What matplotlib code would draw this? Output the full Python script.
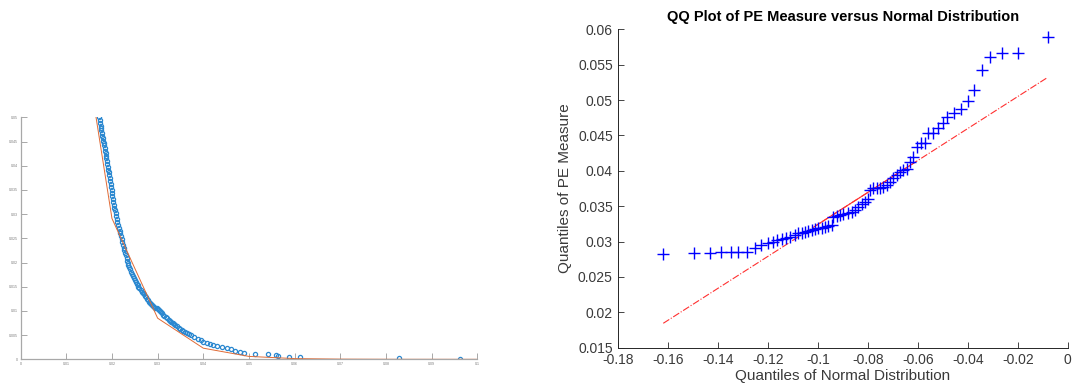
import matplotlib
matplotlib.use("Agg")
import matplotlib.pyplot as plt

plt.rcParams['font.family'] = ['Liberation Sans', 'DejaVu Sans']
plt.rcParams['axes.unicode_minus'] = False

# left panel: measured points (blue circles) and fitted curve (orange)
pe_x = [0.0172, 0.0173, 0.0174, 0.0175, 0.0176, 0.0177, 0.0178, 0.0179, 0.0180, 0.0181,
        0.0182, 0.0183, 0.0184, 0.0185, 0.0186, 0.0187, 0.0188, 0.0189, 0.0190, 0.0191,
        0.0192, 0.0193, 0.0194, 0.0195, 0.0196, 0.0197, 0.0198, 0.0199, 0.0200, 0.0201,
        0.0202, 0.0203, 0.0204, 0.0205, 0.0206, 0.0208, 0.0209, 0.0211, 0.0212, 0.0214,
        0.0215, 0.0217, 0.0218, 0.0220, 0.0221, 0.0223, 0.0224, 0.0226, 0.0227, 0.0229,
        0.0230, 0.0232, 0.0233, 0.0235, 0.0236, 0.0238, 0.0240, 0.0242, 0.0244, 0.0246,
        0.0248, 0.0250, 0.0252, 0.0254, 0.0256, 0.0258, 0.0260, 0.0263, 0.0265, 0.0268,
        0.0270, 0.0273, 0.0275, 0.0277, 0.0279, 0.0281, 0.0283, 0.0285, 0.0287, 0.0290,
        0.0292, 0.0295, 0.0298, 0.0301, 0.0303, 0.0306, 0.0308, 0.0310, 0.0312, 0.0315,
        0.0318, 0.0321, 0.0324, 0.0327, 0.0330, 0.0333, 0.0336, 0.0339, 0.0342, 0.0346,
        0.0349, 0.0353, 0.0356, 0.0360, 0.0364, 0.0369, 0.0374, 0.0380, 0.0388, 0.0395,
        0.0400, 0.0408, 0.0415, 0.0421, 0.0430, 0.0440, 0.0451, 0.0460, 0.0470, 0.0480,
        0.0490, 0.0513, 0.0542, 0.0560, 0.0564, 0.0588, 0.0611, 0.0828, 0.0963]
pe_y = [0.0500, 0.0494, 0.0489, 0.0483, 0.0478, 0.0473, 0.0468, 0.0462, 0.0457, 0.0452,
        0.0447, 0.0442, 0.0437, 0.0431, 0.0426, 0.0420, 0.0415, 0.0409, 0.0404, 0.0398,
        0.0392, 0.0386, 0.0380, 0.0374, 0.0368, 0.0362, 0.0356, 0.0350, 0.0344, 0.0337,
        0.0331, 0.0325, 0.0319, 0.0313, 0.0308, 0.0302, 0.0297, 0.0290, 0.0284, 0.0278,
        0.0272, 0.0266, 0.0260, 0.0254, 0.0248, 0.0242, 0.0237, 0.0231, 0.0226, 0.0220,
        0.0215, 0.0209, 0.0204, 0.0199, 0.0195, 0.0190, 0.0186, 0.0181, 0.0177, 0.0172,
        0.0168, 0.0164, 0.0160, 0.0156, 0.0153, 0.0150, 0.0147, 0.0143, 0.0140, 0.0137,
        0.0134, 0.0131, 0.0128, 0.0125, 0.0122, 0.0119, 0.0116, 0.0114, 0.0112, 0.0110,
        0.0108, 0.0106, 0.0105, 0.0103, 0.0101, 0.0099, 0.0097, 0.0095, 0.0092, 0.0090,
        0.0087, 0.0085, 0.0082, 0.0080, 0.0077, 0.0075, 0.0073, 0.0070, 0.0068, 0.0065,
        0.0062, 0.0060, 0.0058, 0.0056, 0.0054, 0.0052, 0.0050, 0.0047, 0.0042, 0.0039,
        0.0036, 0.0034, 0.0031, 0.0030, 0.0028, 0.0025, 0.0023, 0.0021, 0.0018, 0.0016,
        0.0014, 0.0011, 0.0010, 0.0008, 0.0007, 0.0005, 0.0004, 0.0003, 0.0001]
fit_x = [0.01, 0.02, 0.03, 0.04, 0.05, 0.06, 0.07, 0.08, 0.09, 0.1]
fit_y = [0.089, 0.0291, 0.0085, 0.0023, 0.0006, 0.00015, 0.00004, 0.00001, 0.000003, 0.000001]

left_xticks = [0, 0.01, 0.02, 0.03, 0.04, 0.05, 0.06, 0.07, 0.08, 0.09, 0.1]
left_xlabels = ['0', '0.01', '0.02', '0.03', '0.04', '0.05', '0.06', '0.07', '0.08', '0.09', '0.1']
left_yticks = [0, 0.005, 0.01, 0.015, 0.02, 0.025, 0.03, 0.035, 0.04, 0.045, 0.05]
left_ylabels = ['0', '0.005', '0.01', '0.015', '0.02', '0.025', '0.03', '0.035', '0.04', '0.045', '0.05']

# right panel: QQ plot
qq_x = [-0.1620, -0.1497, -0.1433, -0.1390, -0.1350, -0.1319, -0.1286, -0.1253, -0.1229, -0.1199,
        -0.1182, -0.1166, -0.1146, -0.1128, -0.1112, -0.1092, -0.1079, -0.1066, -0.1052, -0.1039,
        -0.1026, -0.1012, -0.0999, -0.0986, -0.0972, -0.0959, -0.0945, -0.0939, -0.0926, -0.0912,
        -0.0899, -0.0882, -0.0865, -0.0852, -0.0839, -0.0825, -0.0812, -0.0799, -0.0792, -0.0779,
        -0.0765, -0.0752, -0.0738, -0.0725, -0.0712, -0.0698, -0.0685, -0.0672, -0.0658, -0.0645,
        -0.0632, -0.0618, -0.0605, -0.0589, -0.0572, -0.0558, -0.0541, -0.0518, -0.0501, -0.0485,
        -0.0456, -0.0429, -0.0401, -0.0375, -0.0345, -0.0311, -0.0265, -0.0200, -0.0079]
qq_y = [0.02824, 0.02843, 0.02843, 0.02857, 0.02857, 0.02857, 0.02857, 0.02904, 0.02951, 0.02975,
        0.02998, 0.03022, 0.03036, 0.03046, 0.03069, 0.03093, 0.03116, 0.03126, 0.03140, 0.03154,
        0.03163, 0.03173, 0.03187, 0.03196, 0.03210, 0.03220, 0.03234, 0.03352, 0.03361, 0.03375,
        0.03389, 0.03399, 0.03423, 0.03446, 0.03493, 0.03531, 0.03564, 0.03597, 0.03729, 0.03753,
        0.03763, 0.03763, 0.03767, 0.03800, 0.03847, 0.03894, 0.03941, 0.03988, 0.04012, 0.04021,
        0.04130, 0.04201, 0.04342, 0.04399, 0.04399, 0.04530, 0.04540, 0.04601, 0.04681, 0.04766,
        0.04813, 0.04869, 0.04987, 0.05143, 0.05425, 0.05614, 0.05671, 0.05671, 0.05897]
ref_x = [-0.1620, -0.0080]
ref_y = [0.01845, 0.05321]
quart_x = [-0.1006, -0.0612]
quart_y = [0.03231, 0.04120]

right_xticks = [-0.18, -0.16, -0.14, -0.12, -0.1, -0.08, -0.06, -0.04, -0.02, 0]
right_xlabels = ['-0.18', '-0.16', '-0.14', '-0.12', '-0.1', '-0.08', '-0.06', '-0.04', '-0.02', '0']
right_yticks = [0.015, 0.02, 0.025, 0.03, 0.035, 0.04, 0.045, 0.05, 0.055, 0.06]
right_ylabels = ['0.015', '0.02', '0.025', '0.03', '0.035', '0.04', '0.045', '0.05', '0.055', '0.06']

fig = plt.figure(figsize=(10.81, 3.92), dpi=100)

# ---- left
ax1 = fig.add_axes([0.0191, 0.0834, 0.4224, 0.6173])
ax1.plot(pe_x, pe_y, 'o', ms=3.0, mfc='none', mec='#2b88d0', mew=0.9)
ax1.plot(fit_x, fit_y, '-', color='#e06a35', lw=0.7)
ax1.set_xlim(0, 0.1)
ax1.set_ylim(0, 0.05)
ax1.set_xticks(left_xticks, left_xlabels)
ax1.set_yticks(left_yticks, left_ylabels)
ax1.tick_params(direction='in', length=4, width=0.6, labelsize=2.6, colors='#9a9a9a',
                labelcolor='#7a7a7a', pad=2)
for s in ['top', 'right']:
    ax1.spines[s].set_visible(False)
for s in ['left', 'bottom']:
    ax1.spines[s].set_color('#a8a8a8')
    ax1.spines[s].set_linewidth(0.9)

# ---- right
ax2 = fig.add_axes([0.572, 0.113, 0.4157, 0.8122])
ax2.plot(ref_x, ref_y, '-.', color='#ff3030', lw=0.8)
ax2.plot(quart_x, quart_y, '-', color='#ff3030', lw=0.8)
ax2.plot(qq_x, qq_y, '+', color='blue', ms=8, mew=1.0)
ax2.set_xlim(-0.18, 0)
ax2.set_ylim(0.015, 0.06)
ax2.set_xticks(right_xticks, right_xlabels)
ax2.set_yticks(right_yticks, right_ylabels)
ax2.tick_params(direction='in', length=4, width=0.6, labelsize=10, colors='#262626',
                labelcolor='#3a3a3a', pad=4)
for s in ['top', 'right']:
    ax2.spines[s].set_visible(False)
for s in ['left', 'bottom']:
    ax2.spines[s].set_color('#262626')
    ax2.spines[s].set_linewidth(0.7)
ax2.set_title('QQ Plot of PE Measure versus Normal Distribution', fontsize=10.5,
              fontweight='bold', pad=6)
ax2.set_xlabel('Quantiles of Normal Distribution', fontsize=11, color='#3a3a3a', labelpad=1)
ax2.set_ylabel('Quantiles of PE Measure', fontsize=11, color='#3a3a3a', labelpad=4)

fig.savefig('out.png', dpi=100)
